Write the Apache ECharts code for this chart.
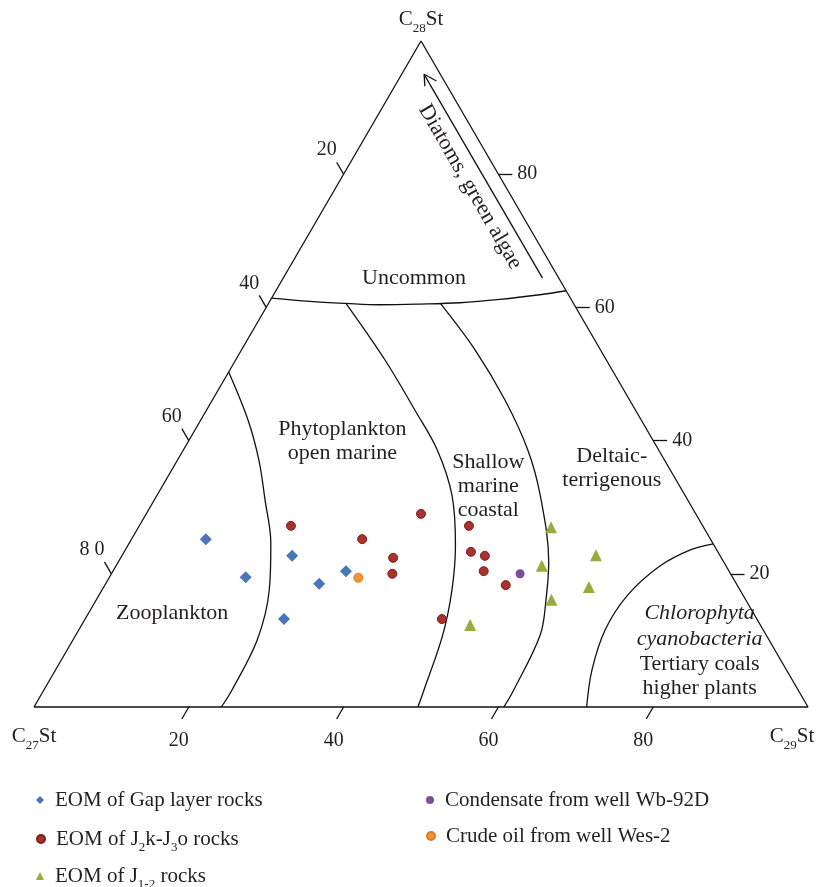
<!DOCTYPE html>
<html>
<head>
<meta charset="utf-8">
<script src="https://cdn.jsdelivr.net/npm/echarts@6/dist/echarts.min.js"></script>
<style>
  html, body { margin: 0; padding: 0; background: #fff; }
  #chart { width: 819px; height: 887px; }
</style>
</head>
<body>
<div id="chart"></div>
<script>
// all compositions are [C27St, C28St, C29St] in percent
const gapLayer = [[65.2, 25.2, 9.6], [62.9, 19.5, 17.6], [55.3, 22.7, 22.0], [53.9, 18.5, 27.6], [49.5, 20.4, 30.1], [61.1, 13.2, 25.7]];
const j2kJ3o = [[53.2, 27.2, 19.6], [45.0, 25.2, 29.8], [42.4, 22.4, 35.2], [43.7, 20.0, 36.3], [35.5, 29.0, 35.5], [30.2, 27.2, 42.6],
  [31.9, 23.3, 44.8], [30.4, 22.7, 46.9], [31.7, 20.4, 47.9], [29.9, 18.3, 51.8], [40.7, 13.2, 46.1]];
const j12 = [[19.7, 27.0, 53.3], [16.0, 22.8, 61.2], [23.8, 21.2, 55.0], [19.3, 18.0, 62.7], [25.1, 16.1, 58.8], [37.5, 12.3, 50.2]];
const wb92d = [[27.2, 20.0, 52.8]];
const wes2 = [[48.4, 19.4, 32.2]];

const tickValues = [20, 40, 60, 80];

// field boundaries
const uncommonCurve = [[38.6, 61.4, 0], [33.9, 60.9, 5.2], [29.4, 60.6, 10.0], [25.1, 60.4, 14.5], [19.9, 60.5, 19.6],
  [14.6, 60.7, 24.7], [9.2, 61.2, 29.6], [3.7, 61.9, 34.4], [0, 62.5, 37.5]];
const zooCurve = [[49.7, 50.3, 0], [50.8, 43.1, 6.1], [52.4, 37.1, 10.5], [54.6, 31.1, 14.3], [57.1, 24.6, 18.3],
  [60.8, 17.6, 21.6], [66.1, 10.1, 23.8], [73.1, 2.6, 24.3], [75.8, 0, 24.2]];
const phytoCurve = [[29.4, 60.6, 10.0], [28.6, 52.1, 19.3], [28.5, 44.6, 26.9], [28.6, 38.6, 32.8], [30.1, 31.8, 38.1],
  [33.4, 24.3, 42.3], [37.2, 17.6, 45.2], [41.8, 10.8, 47.4], [48.3, 2.6, 49.1], [50.4, 0, 49.6]];
const shallowCurve = [[17.2, 60.6, 22.2], [16.2, 53.6, 30.2], [16.1, 46.1, 37.8], [16.9, 38.6, 44.5], [18.7, 31.8, 49.5],
  [22.6, 21.8, 55.6], [25.8, 16.1, 58.1], [29.2, 10.8, 60.0], [36.7, 2.6, 60.7], [39.3, 0, 60.7]];
const chloroCurve = [[28.6, 0, 71.4], [25.1, 5.6, 69.3], [20.4, 11.6, 68.0], [14.9, 16.8, 68.3], [8.5, 21.2, 70.3],
  [3.4, 23.6, 73.0], [0, 24.5, 75.5]];

// arrow along the C28 side: tail, tip, two head strokes
const arrowTail = [2.1, 64.4, 33.5];
const arrowTip = [2.1, 95.0, 2.9];
const arrowHeads = [[2.9, 93.2, 3.9], [1.0, 94.0, 5.0]];

const FONT = 'Liberation Serif';
const INK = '#231f20';
const TICK = 1.8;

// ternary -> plane (x along the C27-C29 base, y = C28 height)
function toXY(p) { return [p[2] + p[1] / 2, p[1]]; }

const vertices = { c27: [100, 0, 0], c28: [0, 100, 0], c29: [0, 0, 100] };

const tickSegs = [];
const tickLabels = [];
tickValues.forEach(v => {
  // bottom: constant C29
  let a = [100 - v, 0, v], b = [100 - v + TICK, -TICK, v];
  tickSegs.push({ coords: [toXY(a), toXY(b)] });
  tickLabels.push({ value: toXY(b), name: String(v), label: { position: 'bottom', distance: 12, offset: [-3, 0] } });
  // left: constant C27
  a = [v, 100 - v, 0]; b = [v, 100 - v + TICK, -TICK];
  tickSegs.push({ coords: [toXY(a), toXY(b)] });
  tickLabels.push({ value: toXY(b), name: v === 80 ? '8 0' : String(v), label: { position: 'left', distance: 0, offset: [0, -12] } });
  // right: constant C28
  a = [0, v, 100 - v]; b = [-TICK, v, 100 - v + TICK];
  tickSegs.push({ coords: [toXY(a), toXY(b)] });
  tickLabels.push({ value: toXY(b), name: String(v), label: { position: 'right', distance: 5 } });
});
tickSegs.push({ coords: [toXY(arrowTail), toXY(arrowTip)] });
arrowHeads.forEach(h => tickSegs.push({ coords: [toXY(arrowTip), toXY(h)] }));

const notes = [
  { at: [4.6, 78.1, 17.3], text: 'Diatoms, green algae', rotate: -60 },
  { at: [18.7, 64.4, 16.9], text: 'Uncommon' },
  { at: [40.2, 39.9, 19.9], text: 'Phytoplankton\nopen marine' },
  { at: [24.7, 33.2, 42.1], text: 'Shallow\nmarine\ncoastal' },
  { at: [7.4, 35.9, 56.7], text: 'Deltaic-\nterrigenous' },
  { at: [75.1, 14.1, 10.8], text: 'Zooplankton' },
  { at: [9.7, 8.6, 81.7], text: '{i|Chlorophyta}\n{i|cyanobacteria}\nTertiary coals\nhigher plants' }
];

const cornerLabels = [
  { value: toXY(vertices.c28), name: 'C{s|28}St', label: { position: 'top', distance: 6 } },
  { value: toXY(vertices.c27), name: 'C{s|27}St', label: { position: 'bottom', distance: 14, offset: [0, 0] } },
  { value: toXY(vertices.c29), name: 'C{s|29}St', label: { position: 'bottom', distance: 14, offset: [-16, 0] } }
];

const subRich = { s: { fontSize: 13, fontFamily: FONT, color: INK, verticalAlign: 'bottom', lineHeight: 31 } };

function edge(data, smooth) {
  return {
    type: 'line', data: data.map(toXY), symbol: 'none', smooth: smooth, silent: true, clip: false,
    lineStyle: { color: '#111', width: 1.3 }, z: 2
  };
}

function points(name, data, symbol, size, color, border) {
  return {
    type: 'scatter', name: name, data: data.map(toXY), symbol: symbol, symbolSize: size, clip: false, z: 5,
    itemStyle: { color: color, borderColor: border || color, borderWidth: border ? 1 : 0, opacity: 1 }
  };
}

// invisible carrier for text placed at ternary positions
function textLayer(data, label) {
  return {
    type: 'scatter', data: data, symbolSize: 0, silent: true, clip: false, z: 4,
    itemStyle: { opacity: 1, color: 'transparent' },
    label: Object.assign({ show: true, formatter: '{b}', fontFamily: FONT, color: INK, opacity: 1, textBorderWidth: 0 }, label)
  };
}

const chart = echarts.init(document.getElementById('chart'));

const legendText = {
  fontFamily: FONT, fontSize: 21, color: INK, lineHeight: 24, padding: [0, 0, 0, 6],
  rich: { s: { fontSize: 13, fontFamily: FONT, color: INK, verticalAlign: 'bottom', lineHeight: 30 } }
};
const legendFmt = name => name.replace('J2k-J3o', 'J{s|2}k-J{s|3}o').replace('J1-2', 'J{s|1-2}');
// one legend per entry: [name, left, top]
const legendSlots = [
  ['EOM of Gap layer rocks', 36, 788],
  ['EOM of J2k-J3o rocks', 36, 824],
  ['EOM of J1-2 rocks', 36, 861],
  ['Condensate from well Wb-92D', 426, 788],
  ['Crude oil from well Wes-2', 426, 824]
];

chart.setOption({
  animation: false,
  backgroundColor: '#fff',
  grid: { left: 34, top: 41, width: 774, height: 666 },
  xAxis: { type: 'value', min: 0, max: 100, show: false },
  yAxis: { type: 'value', min: 0, max: 100, show: false },
  legend: legendSlots.map(s => ({
    left: s[1], top: s[2], itemWidth: 8, itemHeight: 8, padding: 0,
    data: [s[0]], formatter: legendFmt, textStyle: legendText
  })),
  series: [
    edge([vertices.c27, vertices.c29, vertices.c28, vertices.c27], false),
    edge(uncommonCurve, 0.35),
    edge(zooCurve, 0.35),
    edge(phytoCurve, 0.35),
    edge(shallowCurve, 0.35),
    edge(chloroCurve, 0.35),
    {
      type: 'lines', coordinateSystem: 'cartesian2d', data: tickSegs, silent: true, clip: false,
      lineStyle: { color: '#111', width: 1.3, opacity: 1 }, z: 2
    },
    textLayer(tickLabels, { fontSize: 20 }),
    textLayer(cornerLabels, { fontSize: 21, lineHeight: 31, rich: subRich }),
    textLayer(notes.map(n => ({ value: toXY(n.at), name: n.text, label: { rotate: n.rotate || 0 } })), {
      position: 'inside', fontSize: 22, lineHeight: 24, align: 'center',
      rich: { i: { fontStyle: 'italic', fontFamily: FONT, fontSize: 22, color: INK, lineHeight: 26 } }
    }),
    points('EOM of Gap layer rocks', gapLayer, 'diamond', 12, '#4a76b8'),
    points('EOM of J2k-J3o rocks', j2kJ3o, 'circle', 9, '#a8322f', '#7c1e1c'),
    points('EOM of J1-2 rocks', j12, 'triangle', 12, '#93ae3b'),
    points('Condensate from well Wb-92D', wb92d, 'circle', 9, '#7b4d9c'),
    points('Crude oil from well Wes-2', wes2, 'circle', 9, '#f29435', '#dc7a25')
  ]
});
</script>
</body>
</html>
